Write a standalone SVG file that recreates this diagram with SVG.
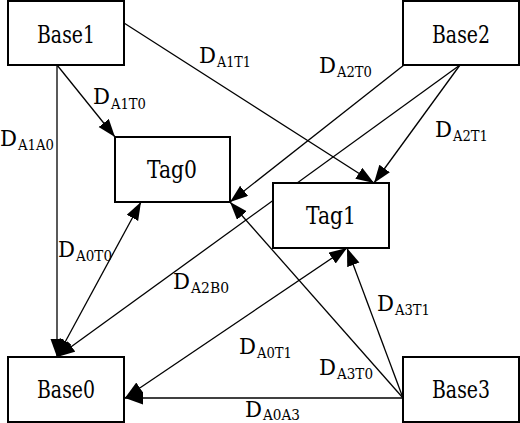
<svg xmlns="http://www.w3.org/2000/svg" width="520" height="423" viewBox="0 0 520 423">
<style>
.box{fill:#fff;stroke:#000;stroke-width:2}
.nl{font-family:"DejaVu Serif","Liberation Serif",serif;font-size:25px;text-anchor:middle;fill:#000}
.c{stroke:#000;stroke-width:1.3;fill:none}
.a{marker-end:url(#ah)}
.b{marker-end:url(#ah);marker-start:url(#ah)}
.lb{font-family:"DejaVu Serif","Liberation Serif",serif;font-size:23px;fill:#000}
.sb{font-family:"DejaVu Serif","Liberation Serif",serif;font-size:15px;fill:#000}
</style>
<defs>
<marker id="ah" markerUnits="userSpaceOnUse" markerWidth="20" markerHeight="14" refX="18" refY="6.5" orient="auto-start-reverse">
<path d="M0,0 L18,6.5 L0,13 z" fill="#000"/>
</marker>
</defs>
<rect width="520" height="423" fill="#fff"/>
<g id="connectors">
<line class="c a" x1="57" y1="65" x2="57" y2="357"/>
<line class="c a" x1="57" y1="65" x2="115" y2="137"/>
<line class="c a" x1="124" y1="23" x2="374" y2="183"/>
<line class="c a" x1="404" y1="65" x2="230" y2="202"/>
<line class="c a" x1="460" y1="65" x2="57" y2="357"/>
<line class="c a" x1="460" y1="65" x2="374" y2="183"/>
<line class="c b" x1="57" y1="357" x2="141" y2="202"/>
<line class="c b" x1="125" y1="398" x2="347" y2="248"/>
<line class="c a" x1="403" y1="398" x2="230" y2="202"/>
<line class="c a" x1="403" y1="398" x2="347" y2="248"/>
<line class="c a" x1="403" y1="398" x2="125" y2="398"/>
</g>
<g id="labels">
<text class="lb" x="199" y="63" textLength="17" lengthAdjust="spacingAndGlyphs">D</text><text class="sb" x="217" y="67" textLength="34" lengthAdjust="spacingAndGlyphs">A1T1</text>
<text class="lb" x="93" y="104" textLength="17" lengthAdjust="spacingAndGlyphs">D</text><text class="sb" x="111" y="109" textLength="35" lengthAdjust="spacingAndGlyphs">A1T0</text>
<text class="lb" x="0" y="146" textLength="17" lengthAdjust="spacingAndGlyphs">D</text><text class="sb" x="18" y="150" textLength="36" lengthAdjust="spacingAndGlyphs">A1A0</text>
<text class="lb" x="319" y="73" textLength="17" lengthAdjust="spacingAndGlyphs">D</text><text class="sb" x="337" y="77" textLength="35" lengthAdjust="spacingAndGlyphs">A2T0</text>
<text class="lb" x="435" y="137" textLength="17" lengthAdjust="spacingAndGlyphs">D</text><text class="sb" x="453" y="141" textLength="35" lengthAdjust="spacingAndGlyphs">A2T1</text>
<text class="lb" x="58" y="257" textLength="17" lengthAdjust="spacingAndGlyphs">D</text><text class="sb" x="76" y="261" textLength="36" lengthAdjust="spacingAndGlyphs">A0T0</text>
<text class="lb" x="173" y="289" textLength="17" lengthAdjust="spacingAndGlyphs">D</text><text class="sb" x="191" y="293" textLength="38" lengthAdjust="spacingAndGlyphs">A2B0</text>
<text class="lb" x="239" y="354" textLength="17" lengthAdjust="spacingAndGlyphs">D</text><text class="sb" x="257" y="358" textLength="35" lengthAdjust="spacingAndGlyphs">A0T1</text>
<text class="lb" x="319" y="375" textLength="17" lengthAdjust="spacingAndGlyphs">D</text><text class="sb" x="337" y="379" textLength="36" lengthAdjust="spacingAndGlyphs">A3T0</text>
<text class="lb" x="377" y="311" textLength="17" lengthAdjust="spacingAndGlyphs">D</text><text class="sb" x="395" y="315" textLength="35" lengthAdjust="spacingAndGlyphs">A3T1</text>
<text class="lb" x="245" y="417" textLength="17" lengthAdjust="spacingAndGlyphs">D</text><text class="sb" x="263" y="420" textLength="37" lengthAdjust="spacingAndGlyphs">A0A3</text>
</g>
<g id="Base1"><rect class="box" x="8" y="1" width="116" height="64"/><text class="nl" x="66" y="43" textLength="58" lengthAdjust="spacingAndGlyphs">Base1</text></g>
<g id="Base2"><rect class="box" x="403" y="1" width="116" height="64"/><text class="nl" x="461" y="43" textLength="58" lengthAdjust="spacingAndGlyphs">Base2</text></g>
<g id="Tag0"><rect class="box" x="115" y="137" width="115" height="65"/><text class="nl" x="172" y="178" textLength="50" lengthAdjust="spacingAndGlyphs">Tag0</text></g>
<g id="Tag1"><rect class="box" x="273" y="183" width="116" height="65"/><text class="nl" x="331" y="224" textLength="50" lengthAdjust="spacingAndGlyphs">Tag1</text></g>
<g id="Base0"><rect class="box" x="8" y="357" width="116" height="65"/><text class="nl" x="66" y="398" textLength="58" lengthAdjust="spacingAndGlyphs">Base0</text></g>
<g id="Base3"><rect class="box" x="403" y="357" width="116" height="65"/><text class="nl" x="461" y="398" textLength="58" lengthAdjust="spacingAndGlyphs">Base3</text></g>
</svg>
